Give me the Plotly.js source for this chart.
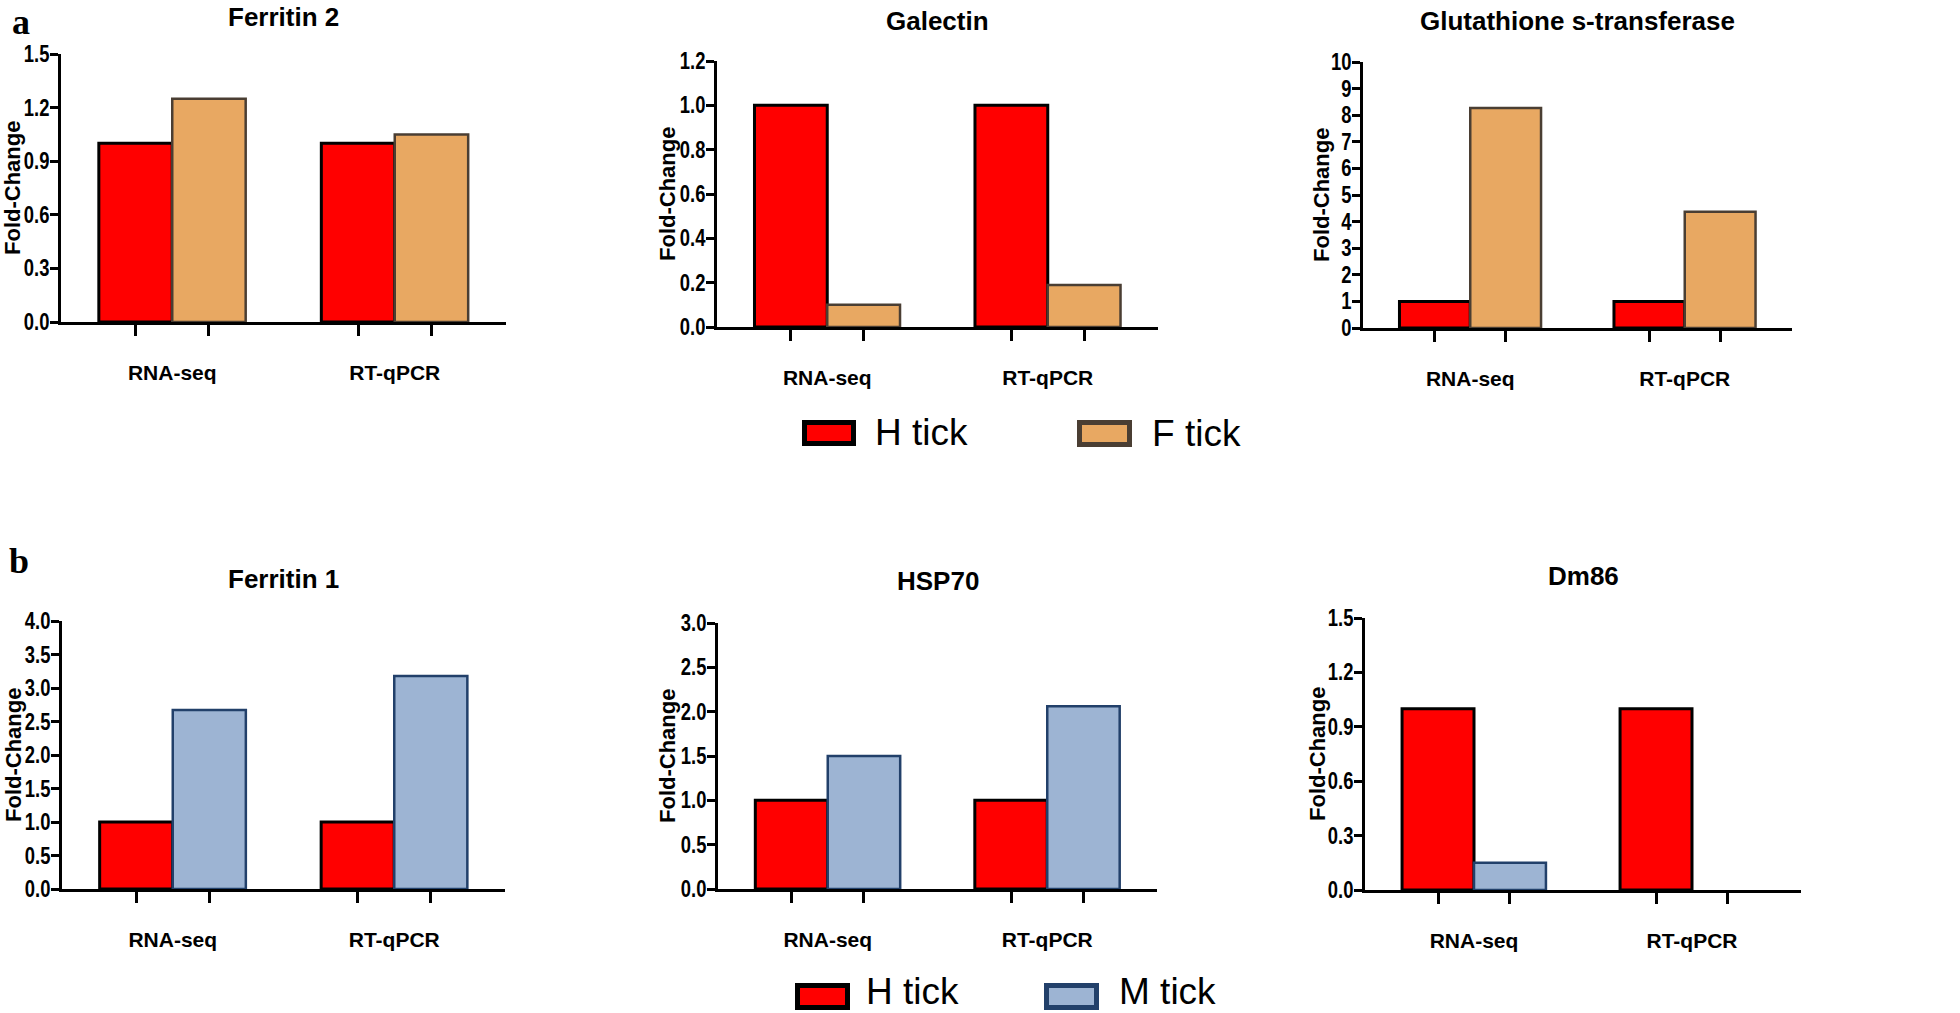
<!DOCTYPE html>
<html><head><meta charset="utf-8">
<script src="https://cdn.plot.ly/plotly-3.0.1.min.js"></script>
<style>html,body{margin:0;padding:0;background:#fff;} #chart{width:1960px;height:1013px;}</style>
</head><body><div id="chart"></div>
<script>
// ---- data ----
const categories = ['RNA-seq', 'RT-qPCR'];
const seriesNamesA = ['H tick', 'F tick'];
const seriesNamesB = ['H tick', 'M tick'];
const geneTitles = ['Ferritin 2', 'Galectin', 'Glutathione s-transferase', 'Ferritin 1', 'HSP70', 'Dm86'];
const ferritin2_H = [1.0, 1.0];
const ferritin2_F = [1.25, 1.05];
const galectin_H = [1.0, 1.0];
const galectin_F = [0.10, 0.19];
const gst_H = [1.0, 1.0];
const gst_F = [8.27, 4.37];
const ferritin1_H = [1.0, 1.0];
const ferritin1_M = [2.67, 3.18];
const hsp70_H = [1.0, 1.0];
const hsp70_M = [1.50, 2.06];
const dm86_H = [1.0, 1.0];
const dm86_M = [0.15, 0.0];
const yAxisTitle = 'Fold-Change';

// ---- layout helpers ----
const W = 1960, H = 1013;
const fx = p => p / W, fy = p => 1 - p / H;
const SANS = '"Liberation Sans", Arial, Helvetica, sans-serif';
const SERIF = '"Liberation Serif", "Times New Roman", serif';
const RED = '#ff0000', ORANGE = '#e8a862', BLUE = '#9db4d3';
const RED_LINE = '#000000', ORANGE_LINE = '#4a3e33', BLUE_LINE = '#22406a';
const BARGAP = 0.34;

const panels = [
  {title: geneTitles[0], h: ferritin2_H, o: ferritin2_F, names: seriesNamesA, oc: ORANGE, ol: ORANGE_LINE, px: [61, 506], py: [54, 322], ymax: 1.5, dtick: 0.3, fmt: '.1f', ty: 0, ytx: 13},
  {title: geneTitles[1], h: galectin_H, o: galectin_F, names: seriesNamesA, oc: ORANGE, ol: ORANGE_LINE, px: [717, 1158], py: [61, 327], ymax: 1.2, dtick: 0.2, fmt: '.1f', ty: 4, ytx: 667},
  {title: geneTitles[2], h: gst_H, o: gst_F, names: seriesNamesA, oc: ORANGE, ol: ORANGE_LINE, px: [1363, 1792], py: [62, 328], ymax: 10, dtick: 1, fmt: 'd', ty: 4, ytx: 1322},
  {title: geneTitles[3], h: ferritin1_H, o: ferritin1_M, names: seriesNamesB, oc: BLUE, ol: BLUE_LINE, px: [62, 505], py: [621, 889], ymax: 4.0, dtick: 0.5, fmt: '.1f', ty: 562, ytx: 13},
  {title: geneTitles[4], h: hsp70_H, o: hsp70_M, names: seriesNamesB, oc: BLUE, ol: BLUE_LINE, px: [718, 1157], py: [623, 889], ymax: 3.0, dtick: 0.5, fmt: '.1f', ty: 564, ytx: 667},
  {title: geneTitles[5], h: dm86_H, o: dm86_M, names: seriesNamesB, oc: BLUE, ol: BLUE_LINE, px: [1365, 1801], py: [618, 890], ymax: 1.5, dtick: 0.3, fmt: '.1f', ty: 559, ytx: 1317}
];

const xIdx = categories.map((c, i) => i);
const off = (1 - BARGAP) / 4;
const minorTicks = [];
xIdx.forEach(i => { minorTicks.push(i - off, i + off); });

const data = [];
const layout = {
  width: W, height: H,
  margin: {l: 0, r: 0, t: 0, b: 0},
  paper_bgcolor: '#ffffff', plot_bgcolor: 'rgba(0,0,0,0)',
  barmode: 'group', bargap: BARGAP, bargroupgap: 0,
  showlegend: false,
  font: {family: SANS, color: '#000'},
  annotations: [], shapes: []
};

panels.forEach((p, k) => {
  const n = k + 1;
  const xa = 'x' + (n === 1 ? '' : n), ya = 'y' + (n === 1 ? '' : n);
  data.push({type: 'bar', x: xIdx, y: p.h, name: p.names[0], xaxis: xa, yaxis: ya,
    marker: {color: RED, line: {color: RED_LINE, width: p.h.map(v => v > 0 ? 3 : 0)}}, hoverinfo: 'y'});
  data.push({type: 'bar', x: xIdx, y: p.o, name: p.names[1], xaxis: xa, yaxis: ya,
    marker: {color: p.oc, line: {color: p.ol, width: p.o.map(v => v > 0 ? 2.5 : 0)}}, hoverinfo: 'y'});
  layout['xaxis' + (n === 1 ? '' : n)] = {
    domain: [fx(p.px[0]), fx(p.px[1])], anchor: ya, range: [-0.5, 1.5],
    showline: true, linecolor: '#000', linewidth: 3, showgrid: false, zeroline: false,
    tickmode: 'array', tickvals: xIdx, ticktext: categories, ticks: '',
    ticklabelstandoff: 30,
    tickfont: {family: SANS, size: 21, color: '#000', weight: 'bold'},
    minor: {tickmode: 'array', tickvals: minorTicks, ticks: 'outside', ticklen: 11, tickwidth: 3, tickcolor: '#000', showgrid: false},
    fixedrange: true
  };
  layout['yaxis' + (n === 1 ? '' : n)] = {
    domain: [fy(p.py[1]), fy(p.py[0])], anchor: xa, range: [0, p.ymax],
    showline: true, linecolor: '#000', linewidth: 3, showgrid: false, zeroline: false,
    tickmode: 'linear', tick0: 0, dtick: p.dtick, tickformat: p.fmt,
    ticks: 'outside', ticklen: 8, tickwidth: 3, tickcolor: '#000',
    ticklabelstandoff: -4,
    tickfont: {family: SANS, size: 23, color: '#000', weight: 'bold'},
    fixedrange: true
  };
  // subplot title
  layout.annotations.push({text: p.title, xref: 'paper', yref: 'paper',
    x: fx((p.px[0] + p.px[1]) / 2), y: fy(p.ty), xanchor: 'center', yanchor: 'top', showarrow: false,
    font: {family: SANS, size: 26, color: '#000', weight: 'bold'}});
  // y-axis title
  layout.annotations.push({text: yAxisTitle, xref: 'paper', yref: 'paper', textangle: -90,
    x: fx(p.ytx), y: fy((p.py[0] + p.py[1]) / 2), xanchor: 'center', yanchor: 'middle', showarrow: false,
    font: {family: SANS, size: 22, color: '#000', weight: 'bold'}});
});

// panel letters
[['a', 21, 0, 'top'], ['b', 19, 561, 'middle']].forEach(([t, x, y, anc]) => {
  layout.annotations.push({text: t, xref: 'paper', yref: 'paper', x: fx(x), y: fy(y),
    xanchor: 'center', yanchor: anc, showarrow: false,
    font: {family: SERIF, size: 36, color: '#000', weight: 'bold'}});
});

// legends (swatches + labels)
const legendItems = [
  {label: seriesNamesA[0], fill: RED, line: RED_LINE, box: [804.5, 422.5, 853.5, 443.5], tx: 873, ty: 432},
  {label: seriesNamesA[1], fill: ORANGE, line: ORANGE_LINE, box: [1079.5, 422.5, 1129.5, 444.5], tx: 1150, ty: 433},
  {label: seriesNamesB[0], fill: RED, line: RED_LINE, box: [797.5, 985.5, 847.5, 1007.5], tx: 864, ty: 991},
  {label: seriesNamesB[1], fill: BLUE, line: BLUE_LINE, box: [1046.5, 985.5, 1096.5, 1007.5], tx: 1117, ty: 991}
];
legendItems.forEach(it => {
  layout.shapes.push({type: 'rect', xref: 'paper', yref: 'paper',
    x0: fx(it.box[0]), x1: fx(it.box[2]), y0: fy(it.box[3]), y1: fy(it.box[1]),
    fillcolor: it.fill, line: {color: it.line, width: 5}});
  layout.annotations.push({text: it.label, xref: 'paper', yref: 'paper', x: fx(it.tx), y: fy(it.ty),
    xanchor: 'left', yanchor: 'middle', showarrow: false,
    font: {family: SANS, size: 37, color: '#000'}});
});

Plotly.newPlot('chart', data, layout, {displayModeBar: false, staticPlot: true}).then(gd => {
  // the reference uses a condensed bold face for the value ticks
  gd.querySelectorAll('.yaxislayer-above text').forEach(t => {
    const L = t.getComputedTextLength();
    t.setAttribute('textLength', (L * 0.8).toFixed(1));
    t.setAttribute('lengthAdjust', 'spacingAndGlyphs');
  });
});
</script></body></html>
